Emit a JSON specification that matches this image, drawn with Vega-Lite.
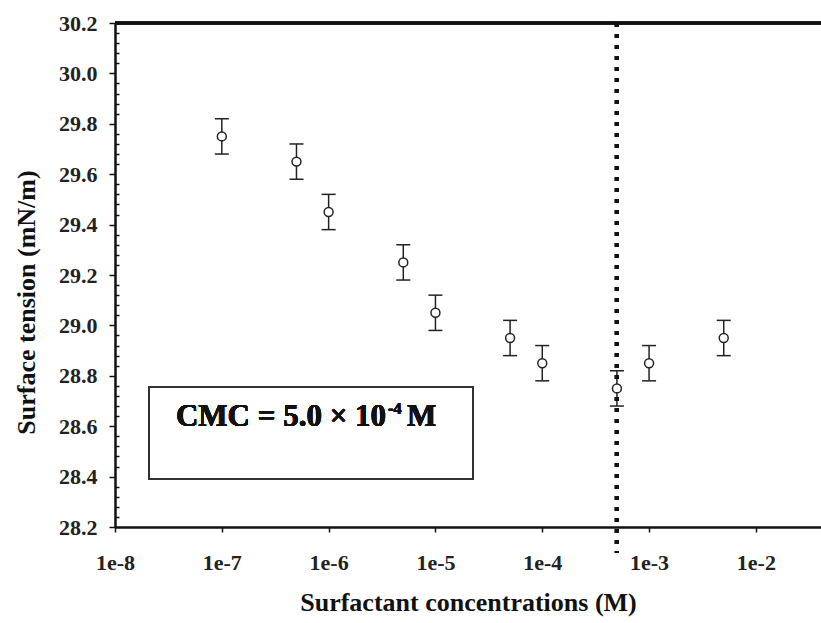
{
  "$schema": "https://vega.github.io/schema/vega-lite/v6.json",
  "width": 706,
  "height": 504,
  "autosize": "none",
  "padding": {"left": 115, "top": 23, "right": 0, "bottom": 96},
  "background": "white",
  "config": {
    "view": {"stroke": null},
    "font": "Liberation Serif",
    "axis": {
      "grid": false,
      "domainColor": "#111",
      "domainWidth": 2.5,
      "tickColor": "#111",
      "tickWidth": 1.5,
      "labelFont": "Liberation Serif",
      "labelFontSize": 22,
      "labelFontWeight": "bold",
      "labelColor": "#222",
      "labelFlush": false,
      "labelOverlap": false,
      "titleFont": "Liberation Serif",
      "titleFontSize": 26,
      "titleFontWeight": "bold",
      "titleColor": "#111"
    },
    "axisX": {"tickSize": 5, "labelPadding": 20, "titlePadding": 16},
    "axisY": {"labelPadding": 12, "titlePadding": 19}
  },
  "data": {
    "values": [
      {"c": 1e-7, "t": 29.75, "lo": 29.68, "hi": 29.82},
      {"c": 5e-7, "t": 29.65, "lo": 29.58, "hi": 29.72},
      {"c": 1e-6, "t": 29.45, "lo": 29.38, "hi": 29.52},
      {"c": 5e-6, "t": 29.25, "lo": 29.18, "hi": 29.32},
      {"c": 1e-5, "t": 29.05, "lo": 28.98, "hi": 29.12},
      {"c": 5e-5, "t": 28.95, "lo": 28.88, "hi": 29.02},
      {"c": 1e-4, "t": 28.85, "lo": 28.78, "hi": 28.92},
      {"c": 5e-4, "t": 28.75, "lo": 28.68, "hi": 28.82},
      {"c": 1e-3, "t": 28.85, "lo": 28.78, "hi": 28.92},
      {"c": 5e-3, "t": 28.95, "lo": 28.88, "hi": 29.02}
    ]
  },
  "layer": [
    {
      "mark": {"type": "rule", "strokeWidth": 1.5, "color": "#222"},
      "encoding": {
        "x": {
          "field": "c",
          "type": "quantitative",
          "title": "Surfactant concentrations (M)",
          "scale": {"type": "log", "domain": [1e-8, 0.0407], "nice": false},
          "axis": {
            "values": [1e-8, 1e-7, 1e-6, 1e-5, 1e-4, 1e-3, 1e-2],
            "tickCount": 100,
            "labelExpr": "'1e' + round(log(datum.value)/LN10)"
          }
        },
        "y": {
          "field": "lo",
          "type": "quantitative",
          "title": "Surface tension (mN/m)",
          "scale": {"domain": [28.2, 30.2], "nice": false, "zero": false},
          "axis": {
            "values": [28.2, 28.24, 28.28, 28.32, 28.36, 28.4, 28.44, 28.48, 28.52, 28.56, 28.6, 28.64, 28.68, 28.72, 28.76, 28.8, 28.84, 28.88, 28.92, 28.96, 29, 29.04, 29.08, 29.12, 29.16, 29.2, 29.24, 29.28, 29.32, 29.36, 29.4, 29.44, 29.48, 29.52, 29.56, 29.6, 29.64, 29.68, 29.72, 29.76, 29.8, 29.84, 29.88, 29.92, 29.96, 30, 30.04, 30.08, 30.12, 30.16, 30.2],
            "tickCount": 200,
            "titleY": 279,
            "labelExpr": "abs(datum.value*5 - round(datum.value*5)) < 0.01 ? format(datum.value, '.1f') : ''",
            "tickSize": {"condition": {"test": "abs(datum.value*5 - round(datum.value*5)) < 0.01", "value": 6}, "value": -4}
          }
        },
        "y2": {"field": "hi"}
      }
    },
    {
      "mark": {"type": "rule", "strokeWidth": 2.5, "color": "#111"},
      "encoding": {
        "y": {"datum": 30.2, "type": "quantitative", "title": "Surface tension (mN/m)"}
      }
    },
    {
      "mark": {"type": "rect", "filled": false, "stroke": "#333", "strokeWidth": 1.3},
      "encoding": {
        "x": {"datum": 2.08e-8, "type": "quantitative", "title": "Surfactant concentrations (M)"},
        "x2": {"datum": 2.25e-5},
        "y": {"datum": 28.756, "type": "quantitative", "title": "Surface tension (mN/m)"},
        "y2": {"datum": 28.39}
      }
    },
    {
      "mark": {"type": "text", "text": "CMC = 5.0 × 10", "fontSize": 31, "fontWeight": "bold", "color": "#111", "align": "right", "baseline": "middle", "font": "Liberation Serif"},
      "encoding": {
        "x": {"datum": 3.45e-6, "type": "quantitative", "title": "Surfactant concentrations (M)"},
        "y": {"datum": 28.636, "type": "quantitative", "title": "Surface tension (mN/m)"}
      }
    },
    {
      "mark": {"type": "text", "text": "-4", "fontSize": 16, "fontWeight": "bold", "color": "#111", "align": "left", "baseline": "middle", "font": "Liberation Serif"},
      "encoding": {
        "x": {"datum": 3.6e-6, "type": "quantitative", "title": "Surfactant concentrations (M)"},
        "y": {"datum": 28.67, "type": "quantitative", "title": "Surface tension (mN/m)"}
      }
    },
    {
      "mark": {"type": "text", "text": "M", "fontSize": 31, "fontWeight": "bold", "color": "#111", "align": "left", "baseline": "middle", "font": "Liberation Serif"},
      "encoding": {
        "x": {"datum": 5.42e-6, "type": "quantitative", "title": "Surfactant concentrations (M)"},
        "y": {"datum": 28.636, "type": "quantitative", "title": "Surface tension (mN/m)"}
      }
    },
    {
      "mark": {"type": "rule", "strokeWidth": 4, "strokeDash": [4, 7], "color": "#111", "strokeCap": "butt", "clip": false},
      "encoding": {
        "x": {"datum": 5e-4, "type": "quantitative", "title": "Surfactant concentrations (M)"},
        "y": {"datum": 30.2, "type": "quantitative", "title": "Surface tension (mN/m)"},
        "y2": {"datum": 28.097}
      }
    },
    {
      "mark": {"type": "tick", "orient": "horizontal", "size": 14, "thickness": 1.5, "color": "#222", "opacity": 1},
      "encoding": {
        "x": {"field": "c", "type": "quantitative", "title": "Surfactant concentrations (M)"},
        "y": {"field": "lo", "type": "quantitative", "title": "Surface tension (mN/m)"}
      }
    },
    {
      "mark": {"type": "tick", "orient": "horizontal", "size": 14, "thickness": 1.5, "color": "#222", "opacity": 1},
      "encoding": {
        "x": {"field": "c", "type": "quantitative", "title": "Surfactant concentrations (M)"},
        "y": {"field": "hi", "type": "quantitative", "title": "Surface tension (mN/m)"}
      }
    },
    {
      "mark": {"type": "point", "shape": "circle", "size": 80, "filled": true, "fill": "white", "stroke": "#222", "strokeWidth": 1.5, "opacity": 1},
      "encoding": {
        "x": {"field": "c", "type": "quantitative", "title": "Surfactant concentrations (M)"},
        "y": {"field": "t", "type": "quantitative", "title": "Surface tension (mN/m)"}
      }
    }
  ]
}
